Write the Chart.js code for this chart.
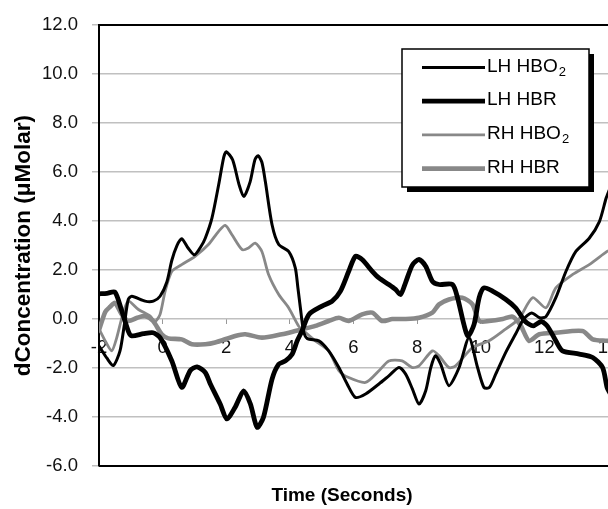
<!DOCTYPE html>
<html>
<head>
<meta charset="utf-8">
<script src="https://cdn.jsdelivr.net/npm/chart.js@4/dist/chart.umd.min.js"></script>
<style>
  html, body { margin: 0; padding: 0; background: #fff; overflow: hidden; }
</style>
</head>
<body>
<canvas id="myChart" width="608" height="509"></canvas>
<script>
// nomes das séries (o "2" final vira subscrito na legenda)
const seriesNames = ['LH HBO₂', 'LH HBR', 'RH HBO₂', 'RH HBR'];

// LH HBO2 - linha preta fina
const lhHbo2Time = [-2, -1.75, -1.55, -1.34, -1.2, -1.08, -0.97, -0.55, -0.29, -0.08, 0.13, 0.29, 0.45, 0.6, 0.8, 1.0, 1.2, 1.34, 1.55, 1.76, 1.92, 2.0, 2.2, 2.4, 2.55, 2.75, 2.9, 3.0, 3.12, 3.23, 3.44, 3.65, 3.96, 4.17, 4.25, 4.33, 4.43, 4.55, 4.91, 5.22, 5.54, 5.8, 6.06, 6.38, 6.8, 7.11, 7.43, 7.64, 7.85, 8.06, 8.27, 8.43, 8.58, 8.74, 9.0, 9.32, 9.63, 9.9, 10.1, 10.27, 10.47, 10.79, 11.1, 11.35, 11.6, 11.85, 12.05, 12.36, 12.68, 12.99, 13.41, 13.73, 13.94, 14.05];
const lhHbo2Vals = [-1.1, -1.6, -1.9, -1.3, -0.2, 0.8, 0.93, 0.73, 0.73, 0.93, 1.5, 2.4, 3.0, 3.28, 2.9, 2.62, 2.95, 3.3, 4.12, 5.47, 6.6, 6.83, 6.5, 5.5, 5.0, 5.6, 6.5, 6.67, 6.4, 5.6, 3.85, 3.04, 2.76, 2.09, 1.3, 0.46, -0.5, -0.8, -0.89, -1.3, -1.98, -2.65, -3.2, -3.06, -2.65, -2.32, -1.98, -2.25, -2.85, -3.47, -2.93, -1.98, -1.5, -1.84, -2.72, -1.98, -0.76, -1.98, -2.79, -2.8, -2.25, -1.35, -0.6, 0.0, 0.25, 0.05, 0.1, 0.87, 1.95, 2.76, 3.3, 3.98, 4.93, 5.3];

// LH HBR - linha preta grossa
const lhHbrTime = [-2, -1.75, -1.5, -1.3, -1.08, -0.97, -0.6, -0.3, -0.08, 0.29, 0.6, 0.87, 1.08, 1.34, 1.5, 1.81, 2.02, 2.28, 2.55, 2.76, 2.97, 3.17, 3.44, 3.65, 3.86, 4.07, 4.23, 4.38, 4.6, 5.01, 5.33, 5.59, 5.85, 6.06, 6.27, 6.59, 6.8, 7.11, 7.32, 7.48, 7.64, 7.85, 8.06, 8.27, 8.48, 8.69, 9.11, 9.27, 9.47, 9.6, 9.79, 9.95, 10.1, 10.37, 10.79, 11.1, 11.4, 11.65, 11.9, 12.1, 12.36, 12.57, 13.1, 13.52, 13.83, 13.97, 14.05];
const lhHbrVals = [1.03, 1.05, 1.1, 0.4, -0.49, -0.69, -0.6, -0.56, -0.76, -1.71, -2.79, -2.1, -1.95, -2.18, -2.65, -3.47, -4.08, -3.6, -2.93, -3.47, -4.42, -4.01, -2.45, -1.84, -1.71, -1.44, -0.89, -0.49, 0.19, 0.53, 0.73, 1.14, 1.95, 2.56, 2.43, 1.95, 1.68, 1.41, 1.21, 1.0, 1.5, 2.2, 2.43, 2.15, 1.54, 1.41, 1.41, 0.87, -0.22, -0.7, -0.22, 0.87, 1.27, 1.14, 0.8, 0.45, -0.1, -0.28, -0.1, -0.3, -0.89, -1.3, -1.43, -1.57, -1.98, -2.79, -3.0];

// RH HBO2 - linha cinza fina
const rhHbo2Time = [-2, -1.8, -1.6, -1.45, -1.25, -1.08, -0.76, -0.39, -0.24, -0.08, 0.08, 0.29, 0.6, 1.02, 1.44, 1.76, 1.97, 2.18, 2.5, 2.7, 2.91, 3.12, 3.33, 3.65, 3.96, 4.28, 4.38, 4.8, 5.22, 5.54, 5.85, 6.38, 6.8, 7.11, 7.53, 7.85, 8.06, 8.48, 8.69, 9.0, 9.21, 9.74, 10.26, 10.79, 11.2, 11.63, 12.05, 12.36, 12.89, 13.41, 13.97, 14.05];
const rhHbo2Vals = [-0.4, -0.9, -1.3, -0.8, 0.2, 0.73, 0.39, 0.12, -0.1, 0.19, 1.14, 1.95, 2.22, 2.56, 3.04, 3.58, 3.82, 3.44, 2.83, 2.9, 3.1, 2.76, 1.82, 1.0, 0.46, -0.3, -0.42, -0.89, -1.3, -2.11, -2.39, -2.59, -2.11, -1.71, -1.71, -1.98, -1.91, -1.3, -1.5, -1.98, -1.91, -1.17, -0.89, -0.4, 0.0, 0.87, 0.46, 1.27, 1.82, 2.22, 2.76, 2.8];

// RH HBR - linha cinza grossa
const rhHbrTime = [-2, -1.8, -1.65, -1.5, -1.29, -1.08, -0.8, -0.55, -0.3, -0.03, 0.18, 0.6, 0.92, 1.34, 1.65, 2.28, 2.6, 3.12, 3.75, 4.17, 4.38, 4.8, 5.22, 5.54, 5.85, 6.27, 6.59, 6.9, 7.22, 7.64, 8.06, 8.48, 8.69, 9.0, 9.42, 9.74, 9.95, 10.26, 10.69, 11.0, 11.25, 11.52, 11.84, 12.36, 13.2, 13.52, 13.97, 14.05];
const rhHbrVals = [-0.45, 0.3, 0.5, 0.66, 0.2, -0.08, 0.05, 0.12, -0.08, -0.62, -0.79, -0.83, -1.03, -1.03, -0.96, -0.69, -0.62, -0.76, -0.62, -0.49, -0.42, -0.28, -0.08, 0.05, -0.08, 0.19, 0.26, -0.08, 0.0, 0.0, 0.05, 0.26, 0.6, 0.8, 0.87, 0.6, -0.08, -0.08, 0.0, 0.1, -0.25, -0.89, -0.62, -0.56, -0.49, -0.83, -0.89, -0.9];

// marcas dos eixos
const yTicks = [-6, -4, -2, 0, 2, 4, 6, 8, 10, 12];
const xTicks = [-2, 0, 2, 4, 6, 8, 10, 12, 14];

function pontos(tempos, valores) {
    return tempos.map((t, i) => ({ x: t, y: valores[i] }));
}

const FONTE = "'Liberation Sans', Arial, sans-serif";

// legenda com sombra, desenhada dentro da área do gráfico
const legendaCaixa = {
    id: 'legendaCaixa',
    afterDraw(chart) {
        const ctx = chart.ctx;
        const area = chart.chartArea;
        ctx.save();

        // bordas de cima e de baixo da área de plotagem
        ctx.strokeStyle = '#000';
        ctx.lineWidth = 2;
        ctx.beginPath();
        ctx.moveTo(area.left, area.top);
        ctx.lineTo(area.right, area.top);
        ctx.moveTo(area.left, area.bottom);
        ctx.lineTo(area.right, area.bottom);
        ctx.stroke();

        // titulo do eixo x
        ctx.fillStyle = '#000';
        ctx.font = 'bold 19px ' + FONTE;
        ctx.textAlign = 'center';
        ctx.textBaseline = 'middle';
        ctx.fillText('Time (Seconds)', 342, 496);

        const bx = 402, by = 49, bw = 187, bh = 138;
        ctx.fillStyle = '#000';
        ctx.fillRect(bx + 5, by + 5, bw, bh);
        ctx.fillStyle = '#fff';
        ctx.fillRect(bx, by, bw, bh);
        ctx.strokeStyle = '#000';
        ctx.lineWidth = 1.5;
        ctx.strokeRect(bx, by, bw, bh);

        chart.data.datasets.forEach((ds, i) => {
            const ry = 67.5 + i * 33.7;
            ctx.strokeStyle = ds.borderColor;
            ctx.lineWidth = ds.borderWidth;
            ctx.beginPath();
            ctx.moveTo(422, ry);
            ctx.lineTo(485, ry);
            ctx.stroke();

            let txt = ds.label;
            let sub = '';
            if (txt.endsWith('₂')) {
                txt = txt.slice(0, -1);
                sub = '2';
            }
            ctx.fillStyle = '#000';
            ctx.textAlign = 'left';
            ctx.textBaseline = 'middle';
            ctx.font = '19px ' + FONTE;
            ctx.fillText(txt, 487, ry - 1);
            if (sub) {
                const w = ctx.measureText(txt).width;
                ctx.font = '13px ' + FONTE;
                ctx.fillText(sub, 487 + w + 1, ry + 5);
            }
        });
        ctx.restore();
    }
};

const config = {
    type: 'line',
    data: {
        datasets: [
            { label: seriesNames[0], data: pontos(lhHbo2Time, lhHbo2Vals), borderColor: '#000', borderWidth: 3 },
            { label: seriesNames[1], data: pontos(lhHbrTime, lhHbrVals), borderColor: '#000', borderWidth: 4.8 },
            { label: seriesNames[2], data: pontos(rhHbo2Time, rhHbo2Vals), borderColor: '#888', borderWidth: 2.8 },
            { label: seriesNames[3], data: pontos(rhHbrTime, rhHbrVals), borderColor: '#888', borderWidth: 4.6 }
        ]
    },
    options: {
        responsive: false,
        animation: false,
        devicePixelRatio: 1,
        layout: { padding: { left: 0, right: 0, top: 23, bottom: 43 } },
        elements: {
            point: { radius: 0 },
            line: { tension: 0.25, fill: false, borderJoinStyle: 'round', borderCapStyle: 'round' }
        },
        plugins: {
            legend: { display: false },
            tooltip: { enabled: false }
        },
        scales: {
            x: {
                type: 'linear',
                position: { y: 0 },
                min: xTicks[0],
                max: xTicks[xTicks.length - 1],
                afterBuildTicks: (scale) => { scale.ticks = xTicks.map(v => ({ value: v })); },
                afterFit: (scale) => { scale.paddingLeft = 0; scale.paddingRight = 0; },
                grid: { drawOnChartArea: false, drawTicks: true, tickLength: 5, color: '#999', lineWidth: 1 },
                border: { display: false },
                ticks: { color: '#111', padding: 13, maxRotation: 0, font: { family: FONTE, size: 18.5 } }
            },
            y: {
                position: 'left',
                min: yTicks[0],
                max: yTicks[yTicks.length - 1],
                afterBuildTicks: (scale) => { scale.ticks = yTicks.map(v => ({ value: v })); },
                afterFit: (scale) => { scale.width = 99; },
                grid: { color: '#c0c0c0', lineWidth: 1.5, tickLength: 7 },
                border: { display: true, color: '#000', width: 2 },
                ticks: {
                    color: '#111',
                    padding: 14,
                    font: { family: FONTE, size: 18.5 },
                    callback: (v) => Number(v).toFixed(1)
                },
                title: {
                    display: true,
                    text: 'dConcentration (μMolar)',
                    color: '#000',
                    padding: { top: 10, bottom: 0 },
                    font: { family: FONTE, size: 22.5, weight: 'bold' }
                }
            }
        }
    },
    plugins: [legendaCaixa]
};

new Chart(document.getElementById('myChart'), config);
</script>
</body>
</html>
